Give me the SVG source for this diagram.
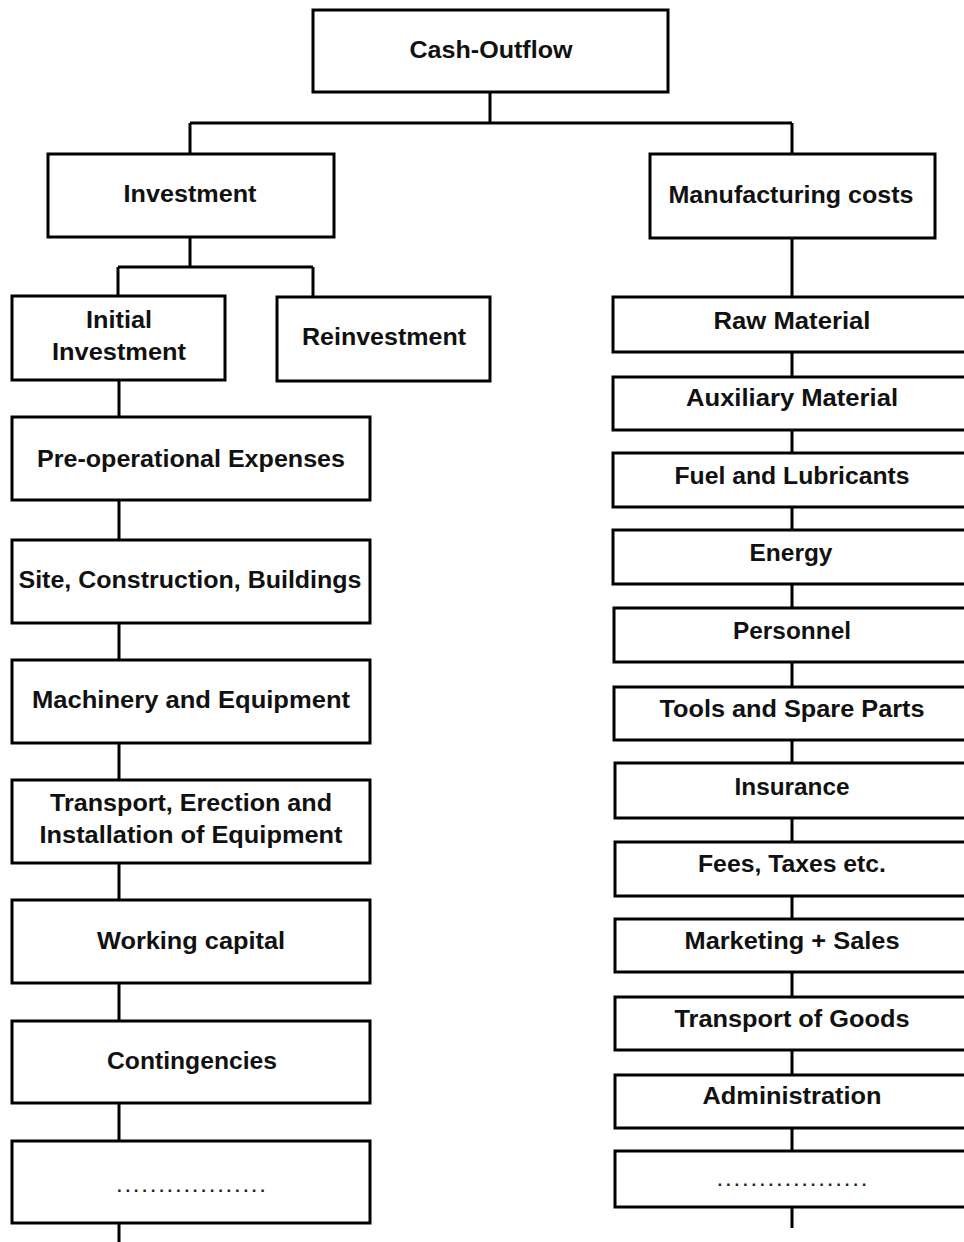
<svg xmlns="http://www.w3.org/2000/svg" width="964" height="1242" viewBox="0 0 964 1242">
<style>
.box{fill:#fff;stroke:#000;stroke-width:3}
.ln{fill:none;stroke:#000;stroke-width:3}
.t{font-family:"Liberation Sans",Arial,sans-serif;font-weight:bold;font-size:23px;fill:#111;text-anchor:middle}
.d{font-family:"Liberation Sans",Arial,sans-serif;font-weight:bold;font-size:17px;fill:#222;text-anchor:middle}
</style>
<rect width="964" height="1242" fill="#fff"/>
<g id="connectors" class="ln">
<path d="M490 92V123M190 123H792M190 123V154M792 123V154"/>
<path d="M190 237V267M118 267H313M118 267V296M313 267V297"/>
<path d="M792 238V297"/>
<path d="M119 380V417M119 500V540M119 623V660M119 743V780M119 863V900M119 983V1021M119 1103V1141M119 1223V1242"/>
<path d="M792 352V377M792 430V453M792 507V530M792 584V608M792 662V687M792 740V763M792 818V842M792 896V919M792 972V997M792 1050V1075M792 1128V1151M792 1207V1228"/>
</g>
<g id="cash-outflow"><rect class="box" x="313" y="10" width="355" height="82"/><text class="t" x="491" y="58" textLength="163" lengthAdjust="spacingAndGlyphs">Cash-Outflow</text></g>
<g id="investment"><rect class="box" x="48" y="154" width="286" height="83"/><text class="t" x="190" y="202" textLength="133" lengthAdjust="spacingAndGlyphs">Investment</text></g>
<g id="manufacturing"><rect class="box" x="650" y="154" width="285" height="84"/><text class="t" x="791" y="203" textLength="245" lengthAdjust="spacingAndGlyphs">Manufacturing costs</text></g>
<g id="initial"><rect class="box" x="12" y="296" width="213" height="84"/><text class="t" x="119" y="328" textLength="66" lengthAdjust="spacingAndGlyphs">Initial</text><text class="t" x="119" y="360" textLength="134" lengthAdjust="spacingAndGlyphs">Investment</text></g>
<g id="reinvestment"><rect class="box" x="277" y="297" width="213" height="84"/><text class="t" x="384" y="345" textLength="164" lengthAdjust="spacingAndGlyphs">Reinvestment</text></g>
<g id="preop"><rect class="box" x="12" y="417" width="358" height="83"/><text class="t" x="191" y="467" textLength="308" lengthAdjust="spacingAndGlyphs">Pre-operational Expenses</text></g>
<g id="site"><rect class="box" x="12" y="540" width="358" height="83"/><text class="t" x="190" y="588" textLength="343" lengthAdjust="spacingAndGlyphs">Site, Construction, Buildings</text></g>
<g id="machinery"><rect class="box" x="12" y="660" width="358" height="83"/><text class="t" x="191" y="708" textLength="318" lengthAdjust="spacingAndGlyphs">Machinery and Equipment</text></g>
<g id="transport-erection"><rect class="box" x="12" y="780" width="358" height="83"/><text class="t" x="191" y="811" textLength="282" lengthAdjust="spacingAndGlyphs">Transport, Erection and</text><text class="t" x="191" y="843" textLength="303" lengthAdjust="spacingAndGlyphs">Installation of Equipment</text></g>
<g id="working"><rect class="box" x="12" y="900" width="358" height="83"/><text class="t" x="191" y="949" textLength="188" lengthAdjust="spacingAndGlyphs">Working capital</text></g>
<g id="contingencies"><rect class="box" x="12" y="1021" width="358" height="82"/><text class="t" x="192" y="1069" textLength="170" lengthAdjust="spacingAndGlyphs">Contingencies</text></g>
<g id="left-more"><rect class="box" x="12" y="1141" width="358" height="82"/><text class="d" x="191" y="1192" textLength="148" lengthAdjust="spacing">..................</text></g>
<g id="raw"><rect class="box" x="613" y="297" width="370" height="55"/><text class="t" x="792" y="329" textLength="157" lengthAdjust="spacingAndGlyphs">Raw Material</text></g>
<g id="aux"><rect class="box" x="613" y="377" width="370" height="53"/><text class="t" x="792" y="406" textLength="212" lengthAdjust="spacingAndGlyphs">Auxiliary Material</text></g>
<g id="fuel"><rect class="box" x="613" y="453" width="370" height="54"/><text class="t" x="792" y="484" textLength="235" lengthAdjust="spacingAndGlyphs">Fuel and Lubricants</text></g>
<g id="energy"><rect class="box" x="613" y="530" width="370" height="54"/><text class="t" x="791" y="561" textLength="83" lengthAdjust="spacingAndGlyphs">Energy</text></g>
<g id="personnel"><rect class="box" x="614" y="608" width="370" height="54"/><text class="t" x="792" y="639" textLength="118" lengthAdjust="spacingAndGlyphs">Personnel</text></g>
<g id="tools"><rect class="box" x="614" y="687" width="370" height="53"/><text class="t" x="792" y="717" textLength="265" lengthAdjust="spacingAndGlyphs">Tools and Spare Parts</text></g>
<g id="insurance"><rect class="box" x="615" y="763" width="370" height="55"/><text class="t" x="792" y="795" textLength="115" lengthAdjust="spacingAndGlyphs">Insurance</text></g>
<g id="fees"><rect class="box" x="615" y="842" width="370" height="54"/><text class="t" x="792" y="872" textLength="188" lengthAdjust="spacingAndGlyphs">Fees, Taxes etc.</text></g>
<g id="marketing"><rect class="box" x="615" y="919" width="370" height="53"/><text class="t" x="792" y="949" textLength="215" lengthAdjust="spacingAndGlyphs">Marketing + Sales</text></g>
<g id="transport-goods"><rect class="box" x="615" y="997" width="370" height="53"/><text class="t" x="792" y="1027" textLength="235" lengthAdjust="spacingAndGlyphs">Transport of Goods</text></g>
<g id="administration"><rect class="box" x="615" y="1075" width="370" height="53"/><text class="t" x="792" y="1104" textLength="179" lengthAdjust="spacingAndGlyphs">Administration</text></g>
<g id="right-more"><rect class="box" x="615" y="1151" width="370" height="56"/><text class="d" x="792" y="1186" textLength="149" lengthAdjust="spacing">..................</text></g>
</svg>
